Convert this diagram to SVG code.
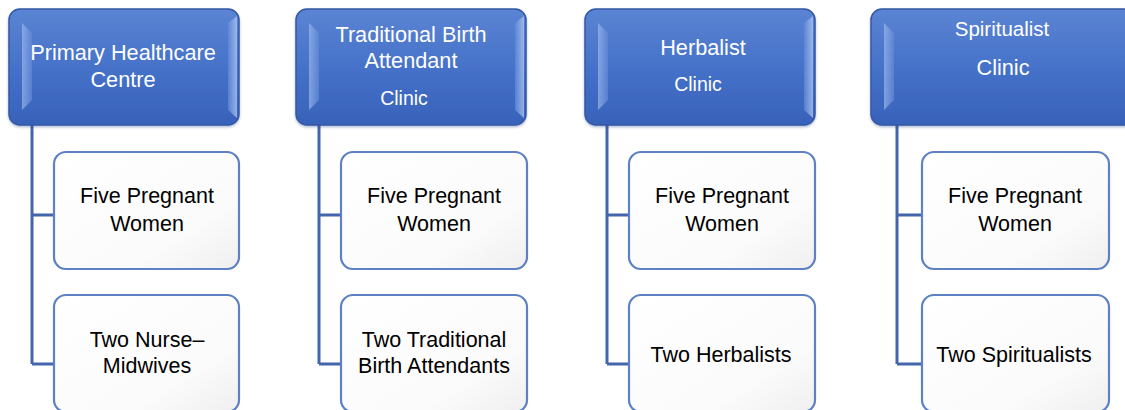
<svg xmlns="http://www.w3.org/2000/svg" width="1125" height="410" viewBox="0 0 1125 410">
  <defs>
    <linearGradient id="hdrFill" x1="0" y1="0" x2="0" y2="1">
      <stop offset="0" stop-color="#5b84d3"/>
      <stop offset="0.55" stop-color="#4470c8"/>
      <stop offset="1" stop-color="#3862b9"/>
    </linearGradient>
    <linearGradient id="bevelL" x1="0" y1="0" x2="1" y2="0">
      <stop offset="0" stop-color="#9db9ec"/>
      <stop offset="1" stop-color="#5f88d6"/>
    </linearGradient>
    <linearGradient id="bevelR" x1="0" y1="0" x2="1" y2="0">
      <stop offset="0" stop-color="#5f88d6"/>
      <stop offset="1" stop-color="#b3cbf3"/>
    </linearGradient>
    <linearGradient id="childFill" x1="0" y1="0" x2="1" y2="1">
      <stop offset="0" stop-color="#ffffff"/>
      <stop offset="0.7" stop-color="#fbfbfb"/>
      <stop offset="1" stop-color="#efefef"/>
    </linearGradient>
    <filter id="shadow" x="-10%" y="-10%" width="120%" height="125%">
      <feDropShadow dx="0" dy="1.5" stdDeviation="1.2" flood-color="#1e3a78" flood-opacity="0.35"/>
    </filter>
  </defs>
  <style>
    .hdr { fill: url(#hdrFill); stroke: #3558a6; stroke-width: 1.5; filter: url(#shadow); }
    .bl { fill: url(#bevelL); opacity: 0.7; }
    .br { fill: url(#bevelR); opacity: 0.75; }
    .child { fill: url(#childFill); stroke: #5d81c3; stroke-width: 2.2; }
    .edge { fill: none; stroke: #4265ab; stroke-width: 3; }
    .ht { font-family: "Liberation Sans", Arial, sans-serif; fill: #ffffff; text-anchor: middle; }
    .ct { font-family: "Liberation Sans", Arial, sans-serif; fill: #000000; font-size: 21.5px; text-anchor: middle; }
  </style>

  <!-- connectors from each clinic to its members -->
  <g id="connectors">
    <path class="edge" d="M32,125 V364 M32,215 H54 M32,364 H54"/>
    <path class="edge" d="M319,125 V364 M319,215 H341 M319,364 H341"/>
    <path class="edge" d="M607,125 V364 M607,215 H629 M607,364 H629"/>
    <path class="edge" d="M897,125 V364 M897,215 H922 M897,364 H922"/>
  </g>

  <!-- Column 1 -->
  <g id="primary-healthcare-centre">
    <rect class="hdr" x="9" y="9" width="230" height="116" rx="11"/>
    <polygon class="bl" points="22,23 32,33 32,100 22,110"/>
    <polygon class="br" points="228,23 237,16 237,118 228,110"/>
    <text class="ht" font-size="21.7" x="123" y="60">Primary Healthcare</text>
    <text class="ht" font-size="21.7" x="123" y="87">Centre</text>
  </g>
  <g id="phc-women">
    <rect class="child" x="54" y="152" width="185" height="117" rx="12"/>
    <text class="ct" x="147" y="203">Five Pregnant</text>
    <text class="ct" x="147" y="231">Women</text>
  </g>
  <g id="phc-staff">
    <rect class="child" x="54" y="295" width="185" height="117" rx="12"/>
    <text class="ct" x="147" y="347">Two Nurse–</text>
    <text class="ct" x="147" y="373">Midwives</text>
  </g>

  <!-- Column 2 -->
  <g id="tba-clinic">
    <rect class="hdr" x="296" y="9" width="230" height="116" rx="11"/>
    <polygon class="bl" points="309,23 319,33 319,100 309,110"/>
    <polygon class="br" points="515,23 524,16 524,118 515,110"/>
    <text class="ht" font-size="21.7" x="411" y="42">Traditional Birth</text>
    <text class="ht" font-size="21.7" x="411" y="68">Attendant</text>
    <text class="ht" font-size="19.5" x="404" y="105">Clinic</text>
  </g>
  <g id="tba-women">
    <rect class="child" x="341" y="152" width="186" height="117" rx="12"/>
    <text class="ct" x="434" y="203">Five Pregnant</text>
    <text class="ct" x="434" y="231">Women</text>
  </g>
  <g id="tba-staff">
    <rect class="child" x="341" y="295" width="186" height="117" rx="12"/>
    <text class="ct" x="434" y="347">Two Traditional</text>
    <text class="ct" x="434" y="373">Birth Attendants</text>
  </g>

  <!-- Column 3 -->
  <g id="herbalist-clinic">
    <rect class="hdr" x="585" y="9" width="230" height="116" rx="11"/>
    <polygon class="bl" points="598,23 608,33 608,100 598,110"/>
    <polygon class="br" points="804,23 813,16 813,118 804,110"/>
    <text class="ht" font-size="21.7" x="703" y="55">Herbalist</text>
    <text class="ht" font-size="19.5" x="698" y="91">Clinic</text>
  </g>
  <g id="herbalist-women">
    <rect class="child" x="629" y="152" width="186" height="117" rx="12"/>
    <text class="ct" x="722" y="203">Five Pregnant</text>
    <text class="ct" x="722" y="231">Women</text>
  </g>
  <g id="herbalist-staff">
    <rect class="child" x="629" y="295" width="186" height="117" rx="12"/>
    <text class="ct" x="721" y="362">Two Herbalists</text>
  </g>

  <!-- Column 4 -->
  <g id="spiritualist-clinic">
    <rect class="hdr" x="871" y="9" width="264" height="116" rx="11"/>
    <polygon class="bl" points="884,23 894,33 894,100 884,110"/>
    <text class="ht" font-size="20.5" x="1002" y="36">Spiritualist</text>
    <text class="ht" font-size="21.7" x="1003" y="75">Clinic</text>
  </g>
  <g id="spiritualist-women">
    <rect class="child" x="922" y="152" width="187" height="117" rx="12"/>
    <text class="ct" x="1015" y="203">Five Pregnant</text>
    <text class="ct" x="1015" y="231">Women</text>
  </g>
  <g id="spiritualist-staff">
    <rect class="child" x="922" y="295" width="187" height="117" rx="12"/>
    <text class="ct" x="1014" y="362">Two Spiritualists</text>
  </g>
</svg>
